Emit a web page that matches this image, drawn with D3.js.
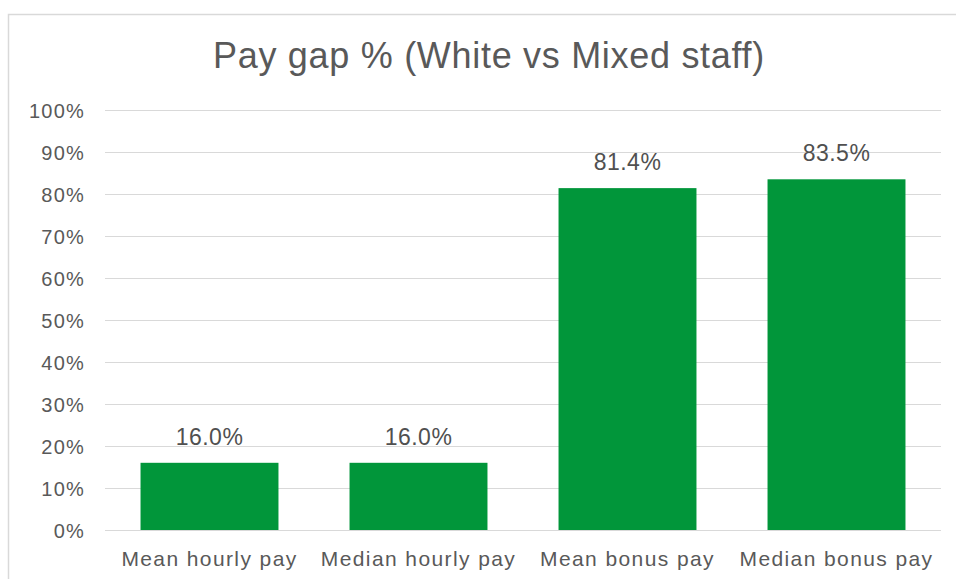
<!DOCTYPE html>
<html>
<head>
<meta charset="utf-8">
<script src="https://cdn.jsdelivr.net/npm/d3@7"></script>
<style>
  body { margin: 0; background: #fff; }
  svg { display: block; font-family: "Liberation Sans", Arial, sans-serif; }
</style>
</head>
<body>
<div id="chart"></div>
<script>
// chart data
var categories = ['Mean hourly pay', 'Median hourly pay', 'Mean bonus pay', 'Median bonus pay']
var payGap = [16.0, 16.0, 81.4, 83.5]
var yTicks = [0, 10, 20, 30, 40, 50, 60, 70, 80, 90, 100]

var width = 956, height = 579
var margin = { top: 110, right: 15, bottom: 49, left: 105 }

var svg = d3.select('#chart').append('svg')
  .attr('width', width)
  .attr('height', height)

// outer frame (only top and left edges visible in the crop)
svg.append('path')
  .attr('d', 'M8.5,' + (height) + 'V14.5H' + width)
  .attr('fill', 'none')
  .attr('stroke', '#d9d9d9')
  .attr('stroke-width', 1.5)

svg.append('text')
  .attr('x', 489)
  .attr('y', 68)
  .attr('text-anchor', 'middle')
  .attr('fill', '#595959')
  .style('font-size', '36px')
  .style('letter-spacing', '0.7px')
  .text('Pay gap % (White vs Mixed staff)')

var x = d3.scaleBand()
  .domain(categories)
  .range([margin.left, width - margin.right])
  .paddingInner(0.34)
  .paddingOuter(0.17)

var y = d3.scaleLinear()
  .domain([0, 100])
  .range([height - margin.bottom, margin.top])

// gridlines
svg.append('g')
  .selectAll('line')
  .data(yTicks)
  .enter().append('line')
  .attr('x1', margin.left)
  .attr('x2', width - margin.right)
  .attr('y1', function (d) { return Math.round(y(d)) + 0.5 })
  .attr('y2', function (d) { return Math.round(y(d)) + 0.5 })
  .attr('stroke', '#d9d9d9')
  .attr('stroke-width', 1.2)

var yAxis = svg.append('g')
  .attr('transform', 'translate(' + (margin.left - 17) + ',0)')
  .call(d3.axisLeft(y).tickValues(yTicks).tickSize(0).tickFormat(function (d) { return d + '%' }))
yAxis.select('.domain').remove()
yAxis.selectAll('text')
  .attr('fill', '#595959')
  .attr('dy', '0.36em')
  .style('font-size', '20px')
  .style('letter-spacing', '1.2px')

var bars = svg.append('g')
  .selectAll('g')
  .data(payGap)
  .enter().append('g')

bars.append('rect')
  .attr('x', function (d, i) { return x(categories[i]) })
  .attr('width', x.bandwidth())
  .attr('y', function (d) { return y(d) })
  .attr('height', function (d) { return y(0) - y(d) })
  .attr('fill', '#01963a')

bars.append('text')
  .attr('x', function (d, i) { return x(categories[i]) + x.bandwidth() / 2 })
  .attr('y', function (d) { return y(d) - 18 })
  .attr('text-anchor', 'middle')
  .attr('fill', '#505050')
  .style('font-size', '23px')
  .style('letter-spacing', '0.5px')
  .text(function (d) { return d.toFixed(1) + '%' })

var xAxis = svg.append('g')
  .attr('transform', 'translate(0,' + y(0) + ')')
  .call(d3.axisBottom(x).tickSize(0))
xAxis.select('.domain').remove()
xAxis.selectAll('text')
  .attr('fill', '#595959')
  .attr('dy', '1.55em')
  .style('font-size', '21px')
  .style('letter-spacing', '1.4px')
</script>
</body>
</html>
